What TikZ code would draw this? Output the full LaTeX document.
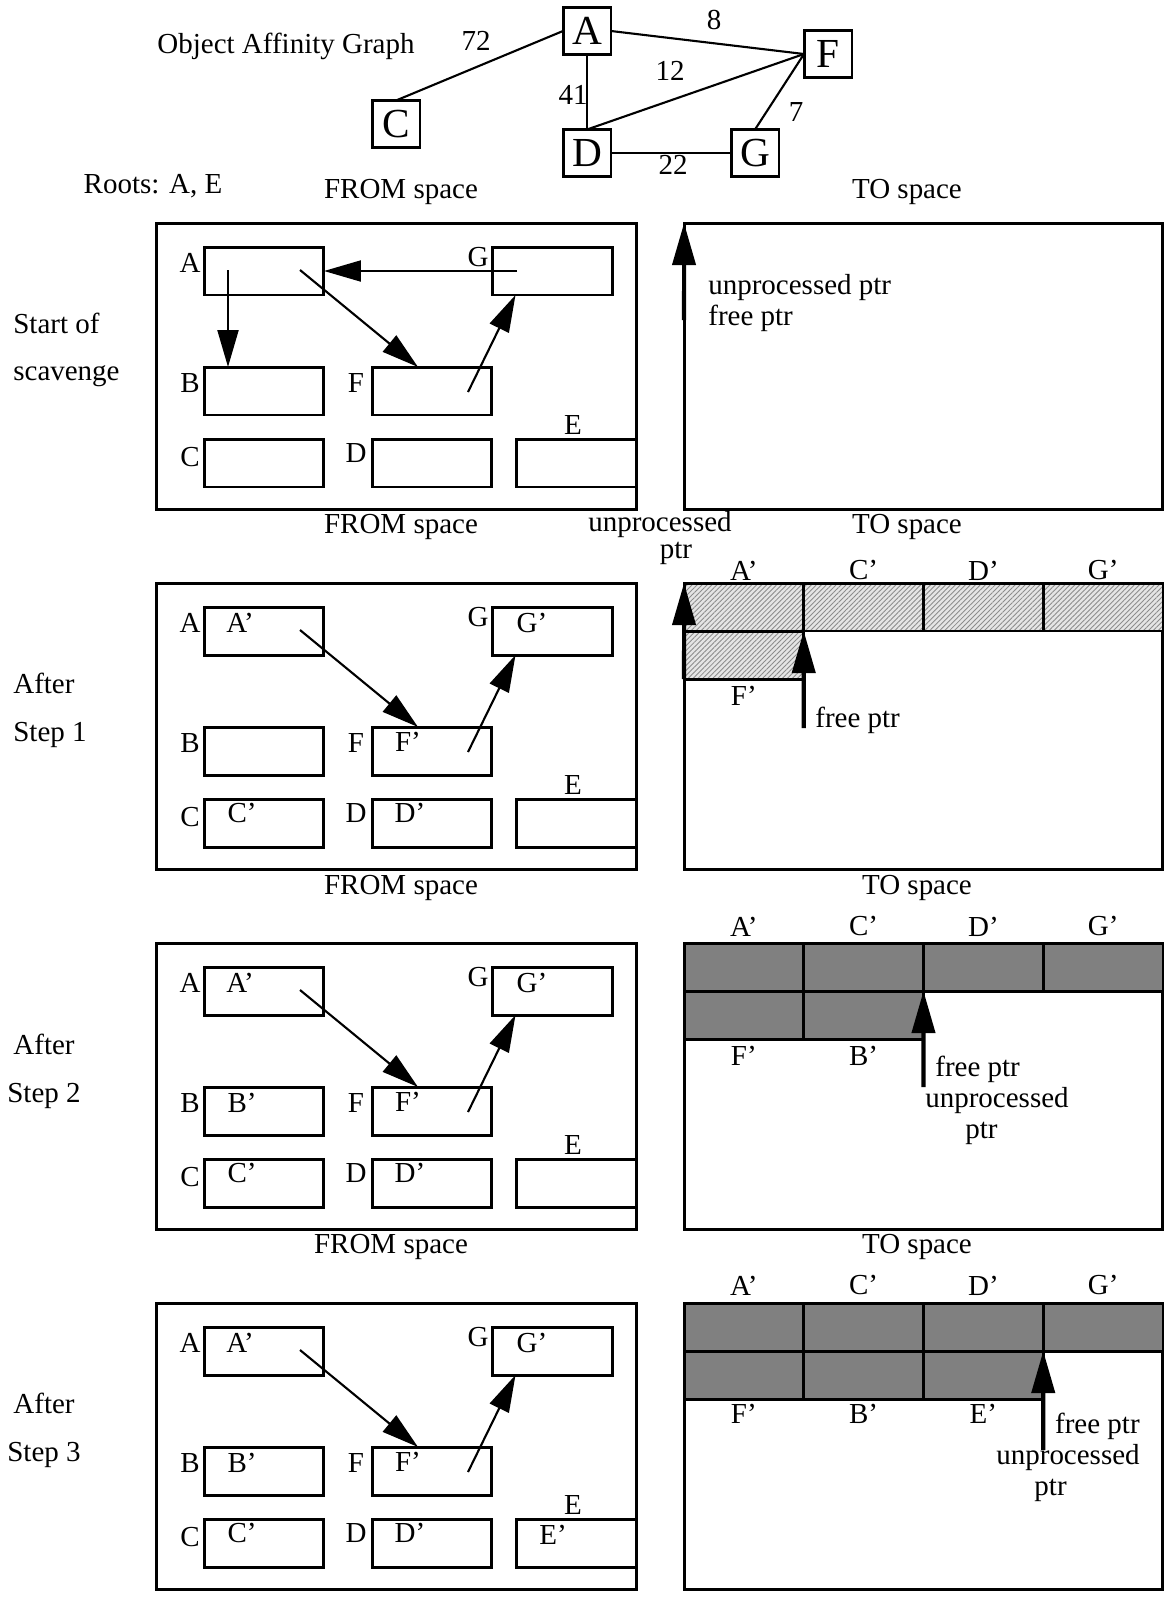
\documentclass[tikz,border=0pt]{standalone}
\usepackage{fontspec}
\setmainfont{Liberation Serif}
\usetikzlibrary{arrows.meta, positioning, patterns.meta}
\tikzset{
  spacebox/.style={
    draw,
    line width=1.7pt,
    inner sep=0pt,
    outer sep=0pt
  },
  objbox/.style={
    draw,
    line width=1.7pt,
    minimum width=2.4cm,
    minimum height=0.96cm,
    inner sep=0pt,
    outer sep=0pt
  },
  tocell/.style={
    draw,
    line width=1.7pt,
    minimum width=2.395cm,
    minimum height=0.96cm,
    inner sep=0pt,
    outer sep=0pt
  },
  hatched/.style={
    tocell,
    preaction={fill=gray!20},
    pattern={Lines[angle=45, distance=2pt, line width=0.5pt]},
    pattern color=gray!90
  },
  copied/.style={
    tocell,
    fill=black!50
  },
  lbl/.style={
    inner sep=0pt
  },
  gnode/.style={
    draw,
    line width=1.7pt,
    minimum width=0.96cm,
    minimum height=0.94cm,
    inner sep=0pt,
    outer sep=0pt,
    font=\fontsize{23.5}{26}\selectfont
  },
  affinity/.style={
    line width=1.2pt
  },
  fromref/.style={
    line width=1.2pt,
    -{Triangle[length=0.74cm, width=0.42cm]}
  },
  ptrarrow/.style={
    line width=2.3pt,
    -{Triangle[length=0.84cm, width=0.46cm]}
  }
}

\begin{document}
\begin{tikzpicture}[x=0.02cm, y=-0.02cm, font=\fontsize{16.5}{17.6}\selectfont]
  \useasboundingbox (0,0) rectangle (1167,1600);

  % Affinity graph
  \node[gnode] (gA) at (587,31) {A};
  \node[gnode] (gF) at (828,54) {F};
  \node[gnode] (gC) at (396,124) {C};
  \node[gnode] (gD) at (587,153) {D};
  \node[gnode] (gG) at (755,153) {G};
  \draw[affinity] (gA.west) -- (gC.north);
  \draw[affinity] (gA.east) -- (gF.west);
  \draw[affinity] (gA) -- (gD);
  \draw[affinity] (gD.north) -- (gF.west);
  \draw[affinity] (gF.west) -- (gG.north);
  \draw[affinity] (gD) -- (gG);
  \node[lbl] (w72) at (476,41) {72};
  \node[lbl] (w8) at (714,20) {8};
  \node[lbl] (w12) at (670,71) {12};
  \node[lbl] (w41) at (573,95) {41};
  \node[lbl] (w7) at (796,112) {7};
  \node[lbl] (w22) at (673,165) {22};
  \node[lbl] (title) at (286,46) {Object Affinity Graph};
  \node[lbl] (roots) at (153,186) {Roots: A, E};

  % FROM and TO spaces, one row per step
  \foreach \p/\y/\h/\fx/\tx in {1/223/-31/401/907, 2/583/-56/401/907, 3/943/-55/401/917, 4/1303/-56/391/917}{
    \begin{scope}[shift={(0,\y)}]
      \node[spacebox, minimum width=9.62cm, minimum height=5.74cm] (from\p) at (396.5,143.5) {};
      \node[spacebox, minimum width=9.58cm, minimum height=5.74cm] (to\p) at (923.5,143.5) {};
      \node[lbl] (fromlbl\p) at (\fx,\h) {FROM space};
      \node[lbl] (tolbl\p) at (\tx,\h) {TO space};
      \node[objbox] (A\p) at (264,48) {};
      \node[objbox] (G\p) at (552.5,48) {};
      \node[objbox] (B\p) at (264,168) {};
      \node[objbox] (F\p) at (432,168) {};
      \node[objbox] (C\p) at (264,240) {};
      \node[objbox] (D\p) at (432,240) {};
      \node[objbox, minimum width=2.42cm] (E\p) at (576.5,240) {};
      \node[lbl] (nA\p) at (190,40) {A};
      \node[lbl] (nG\p) at (478,34) {G};
      \node[lbl] (nB\p) at (190,160) {B};
      \node[lbl] (nF\p) at (356,160) {F};
      \node[lbl] (nC\p) at (190,234) {C};
      \node[lbl] (nD\p) at (356,230) {D};
      \node[lbl] (nE\p) at (573,202) {E};
      \ifnum\p>1
        \node[lbl] (pA\p) at (240,40) {A’};
        \node[lbl] (pG\p) at (532,40) {G’};
        \node[lbl] (pF\p) at (408,159) {F’};
        \node[lbl] (pC\p) at (242,230) {C’};
        \node[lbl] (pD\p) at (410,230) {D’};
      \fi
      \ifnum\p>2
        \node[lbl] (pB\p) at (242,160) {B’};
      \fi
      \ifnum\p>3
        \node[lbl] (pE\p) at (553,232) {E’};
      \fi
      \coordinate (sA\p) at (300,47);
      \coordinate (sF\p) at (468,169);
      \draw[fromref] (sA\p) -- ([xshift=-0.28cm]F\p.north);
      \draw[fromref] (sF\p) -- ([xshift=0.46cm]G\p.south west);
    \end{scope}
  }

  % Start of scavenge
  \node[lbl, anchor=west, align=left] (row1) at (13,350) {Start of\\[9.6pt]scavenge};
  \coordinate (sB1) at (228,270);
  \draw[fromref] (sB1) -- (sB1 |- B1.north);
  \coordinate (sG1) at (517,271);
  \draw[fromref] (sG1) -- (sG1 -| A1.east);
  \coordinate (up1) at (684,320);
  \draw[ptrarrow] (up1) -- (to1.north west);
  \node[lbl, anchor=west, align=left] (ptrs1) at (708,303) {unprocessed ptr\\free ptr};

  % After step 1
  \node[lbl, anchor=west, align=left] (row2) at (13,710) {After\\[9.6pt]Step 1};
  \node[hatched] (c2a) at (743.875,607) {};
  \node[hatched] (c2c) at (863.625,607) {};
  \node[hatched] (c2d) at (983.375,607) {};
  \node[hatched] (c2g) at (1103.125,607) {};
  \node[hatched] (c2f) at (743.875,655) {};
  \node[lbl, above=0.05cm of c2a] (t2a) {A’};
  \node[lbl, above=0.05cm of c2c] (t2c) {C’};
  \node[lbl, above=0.05cm of c2d] (t2d) {D’};
  \node[lbl, above=0.05cm of c2g] (t2g) {G’};
  \node[lbl, below=0.13cm of c2f] (t2f) {F’};
  \coordinate (up2) at (684,679);
  \draw[ptrarrow] (up2) -- (to2.north west);
  \coordinate (fp2) at (803.75,728);
  \draw[ptrarrow] (fp2) -- (c2f.north east);
  \node[lbl, anchor=west] (free2) at (815,720) {free ptr};
  \node[lbl, align=center] (unp2) at (660,538) {unprocessed\\[-2pt]\hspace*{0.64cm}ptr};

  % After step 2
  \node[lbl, align=center] (row3) at (44,1071) {After\\[9.6pt]Step 2};
  \node[copied] (c3a) at (743.875,967) {};
  \node[copied] (c3c) at (863.625,967) {};
  \node[copied] (c3d) at (983.375,967) {};
  \node[copied] (c3g) at (1103.125,967) {};
  \node[copied] (c3f) at (743.875,1015) {};
  \node[copied] (c3b) at (863.625,1015) {};
  \node[lbl, above=0.13cm of c3a] (t3a) {A’};
  \node[lbl, above=0.13cm of c3c] (t3c) {C’};
  \node[lbl, above=0.13cm of c3d] (t3d) {D’};
  \node[lbl, above=0.13cm of c3g] (t3g) {G’};
  \node[lbl, below=0.13cm of c3f] (t3f) {F’};
  \node[lbl, below=0.13cm of c3b] (t3b) {B’};
  \coordinate (fp3) at (923.5,1087);
  \draw[ptrarrow] (fp3) -- (c3b.north east);
  \node[lbl, anchor=west, align=left] (ptrs3) at (925,1100) {\hspace*{0.2cm}free ptr\\unprocessed\\\hspace*{0.8cm}ptr};

  % After step 3
  \node[lbl, align=center] (row4) at (44,1430) {After\\[9.6pt]Step 3};
  \node[copied] (c4a) at (743.875,1327) {};
  \node[copied] (c4c) at (863.625,1327) {};
  \node[copied] (c4d) at (983.375,1327) {};
  \node[copied] (c4g) at (1103.125,1327) {};
  \node[copied] (c4f) at (743.875,1375) {};
  \node[copied] (c4b) at (863.625,1375) {};
  \node[copied] (c4e) at (983.375,1375) {};
  \node[lbl, above=0.15cm of c4a] (t4a) {A’};
  \node[lbl, above=0.15cm of c4c] (t4c) {C’};
  \node[lbl, above=0.15cm of c4d] (t4d) {D’};
  \node[lbl, above=0.15cm of c4g] (t4g) {G’};
  \node[lbl, below=0.09cm of c4f] (t4f) {F’};
  \node[lbl, below=0.09cm of c4b] (t4b) {B’};
  \node[lbl, below=0.09cm of c4e] (t4e) {E’};
  \coordinate (fp4) at (1043.25,1450);
  \draw[ptrarrow] (fp4) -- (c4e.north east);
  \node[lbl, anchor=east, align=right] (ptrs4) at (1140,1457) {free ptr\\unprocessed\\ptr\hspace*{1.46cm}};
\end{tikzpicture}
\end{document}
